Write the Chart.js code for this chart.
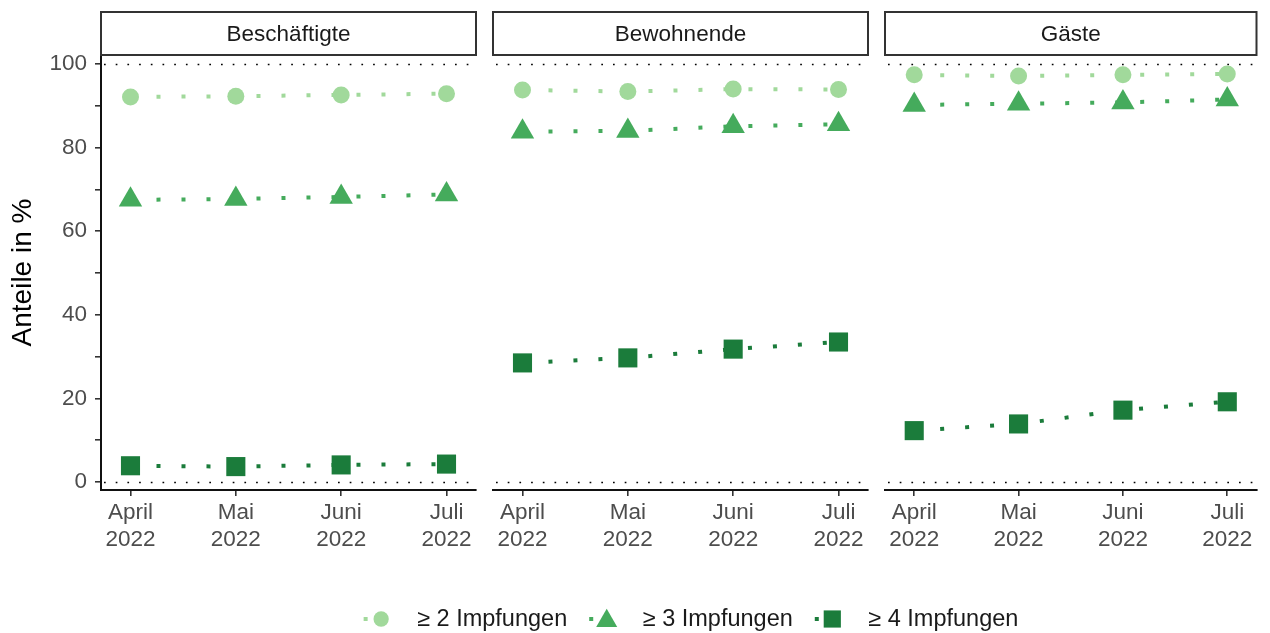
<!DOCTYPE html>
<html>
<head>
<meta charset="utf-8">
<script src="https://cdn.jsdelivr.net/npm/chart.js@4.4.1/dist/chart.umd.min.js"></script>
<style>
html,body{margin:0;padding:0;background:#fff;}
#wrap{position:relative;width:1270px;height:633px;overflow:hidden;background:#fff;}
#wrap canvas{position:absolute;left:0;top:0;}
</style>
</head>
<body>
<div id="wrap">
<canvas id="c0" width="1270" height="633"></canvas>
<canvas id="c1" width="1270" height="633"></canvas>
<canvas id="c2" width="1270" height="633"></canvas>
</div>
<script>
// ---------- data ----------
const months = ['April', 'Mai', 'Juni', 'Juli'];
const year = '2022';
const panels = ['Beschäftigte', 'Bewohnende', 'Gäste'];
const seriesNames = ['≥ 2 Impfungen', '≥ 3 Impfungen', '≥ 4 Impfungen'];
const yTickValues = [0, 10, 20, 30, 40, 50, 60, 70, 80, 90, 100];
const yLabelEvery = 20;
const refLines = [0, 100];
const yTitle = 'Anteile in %';

const beschaeftigte2 = [92.1, 92.3, 92.6, 92.9];
const beschaeftigte3 = [67.5, 67.7, 68.2, 68.8];
const beschaeftigte4 = [3.9, 3.7, 4.1, 4.3];

const bewohnende2 = [93.8, 93.4, 94.0, 93.9];
const bewohnende3 = [83.8, 84.0, 85.1, 85.6];
const bewohnende4 = [28.5, 29.7, 31.8, 33.5];

const gaeste2 = [97.4, 97.1, 97.4, 97.6];
const gaeste3 = [90.2, 90.5, 90.8, 91.5];
const gaeste4 = [12.3, 13.9, 17.2, 19.2];

const panelSeries = [
  [beschaeftigte2, beschaeftigte3, beschaeftigte4],
  [bewohnende2, bewohnende3, bewohnende4],
  [gaeste2, gaeste3, gaeste4]
];

// ---------- styling ----------
const FONT = "'Liberation Sans', Arial, Helvetica, sans-serif";
Chart.defaults.font.family = FONT;
const colors = ['#a1d99b', '#45ab5c', '#1b7c3b'];
const pointStyles = ['circle', 'triangle', 'rect'];
const pointRadii = [8.5, 13.5, 13.5];
const CW = 1270, CH = 633;
const panelLeft = [101, 493, 885];
const panelWidth = 375;
const plotTop = 55, plotBottom = 490;
const xAxisH = 72;
const stripTop = 12;

function toPoints(vals) { return vals.map((v, i) => ({ x: i, y: v })); }

const refLinePlugin = {
  id: 'refLines',
  beforeDatasetsDraw(chart) {
    const { ctx, chartArea, scales } = chart;
    ctx.save();
    ctx.strokeStyle = '#000';
    ctx.lineWidth = 1.7;
    ctx.setLineDash([1.7, 10]);
    refLines.forEach(v => {
      const y = Math.round(scales.y.getPixelForValue(v)) + 0.5;
      ctx.beginPath();
      ctx.moveTo(chartArea.left + 3, y);
      ctx.lineTo(chartArea.right, y);
      ctx.stroke();
    });
    ctx.restore();
  }
};

const stripPlugin = {
  id: 'strip',
  afterDraw(chart, args, opts) {
    const { ctx, chartArea } = chart;
    ctx.save();
    ctx.fillStyle = '#fff';
    ctx.fillRect(chartArea.left, stripTop, chartArea.right - chartArea.left, plotTop - stripTop);
    ctx.strokeStyle = '#333';
    ctx.lineWidth = 2;
    ctx.strokeRect(chartArea.left, stripTop, chartArea.right - chartArea.left, plotTop - stripTop);
    ctx.fillStyle = '#1a1a1a';
    ctx.font = '22.5px ' + FONT;
    ctx.textAlign = 'center';
    ctx.textBaseline = 'middle';
    ctx.fillText(opts.text, (chartArea.left + chartArea.right) / 2, (stripTop + plotTop) / 2 + 1);
    ctx.restore();
  }
};

function drawMarker(ctx, style, x, y, r) {
  ctx.beginPath();
  if (style === 'circle') {
    ctx.arc(x, y, r, 0, Math.PI * 2);
  } else if (style === 'triangle') {
    for (let k = 0; k < 3; k++) {
      const a = k * 2 * Math.PI / 3;
      const px = x + Math.sin(a) * r, py = y - Math.cos(a) * r;
      if (k === 0) ctx.moveTo(px, py); else ctx.lineTo(px, py);
    }
    ctx.closePath();
  } else {
    const s = r * Math.SQRT1_2;
    ctx.rect(x - s, y - s, 2 * s, 2 * s);
  }
  ctx.fill();
}

const legendPlugin = {
  id: 'bottomLegend',
  afterDraw(chart, args, opts) {
    if (!opts.show) return;
    const ctx = chart.ctx;
    ctx.save();
    ctx.font = '23.5px ' + FONT;
    const keyToText = 36, dotOffset = 15, itemGap = 22, dotHalf = 2.5;
    const widths = seriesNames.map(t => ctx.measureText(t).width);
    let total = 0;
    widths.forEach((w, i) => { total += dotHalf + dotOffset + keyToText + w; if (i < widths.length - 1) total += itemGap; });
    const centerX = 691;
    let x = centerX - total / 2; // left edge of first dot
    const yC = 619;
    seriesNames.forEach((name, i) => {
      const mx = x + dotHalf + dotOffset;
      ctx.fillStyle = colors[i];
      ctx.fillRect(mx - dotOffset - dotHalf, yC - 2, 4, 4);
      drawMarker(ctx, pointStyles[i], mx, yC + (i === 1 ? 2 : 0), pointRadii[i] * 0.9);
      ctx.fillStyle = '#1a1a1a';
      ctx.textAlign = 'left';
      ctx.textBaseline = 'middle';
      ctx.fillText(name, mx + keyToText, yC + 1);
      x = mx + keyToText + widths[i] + itemGap;
    });
    ctx.restore();
  }
};

panels.forEach((pname, p) => {
  const datasets = panelSeries[p].map((vals, s) => ({
    label: seriesNames[s],
    data: toPoints(vals),
    borderColor: colors[s],
    backgroundColor: colors[s],
    borderWidth: 4,
    borderDash: [4, 21],
    borderDashOffset: -1,
    borderCapStyle: 'butt',
    pointStyle: pointStyles[s],
    pointRadius: pointRadii[s],
    pointBorderWidth: 0,
    pointBackgroundColor: colors[s],
    tension: 0,
    fill: false,
    clip: false
  }));
  const isFirst = p === 0;
  new Chart(document.getElementById('c' + p), {
    type: 'line',
    data: { datasets },
    plugins: [refLinePlugin, stripPlugin, legendPlugin],
    options: {
      responsive: false,
      animation: false,
      devicePixelRatio: 1,
      events: [],
      layout: {
        padding: {
          left: isFirst ? 0 : panelLeft[p],
          right: CW - (panelLeft[p] + panelWidth),
          top: plotTop,
          bottom: CH - plotBottom - xAxisH
        }
      },
      plugins: {
        legend: { display: false },
        tooltip: { enabled: false },
        strip: { text: pname },
        bottomLegend: { show: p === 2 }
      },
      scales: {
        x: {
          type: 'linear',
          min: -0.28,
          max: 3.28,
          afterBuildTicks: ax => { ax.ticks = months.map((m, i) => ({ value: i })); },
          afterFit: ax => { ax.height = xAxisH; },
          ticks: {
            callback: (v) => [months[v], year],
            color: '#4d4d4d',
            font: { size: 22.5, lineHeight: 1.22 },
            padding: 3,
            maxRotation: 0,
            autoSkip: false
          },
          grid: { drawOnChartArea: false, drawTicks: true, tickLength: 6, tickColor: '#333', lineWidth: 1.6 },
          border: { display: true, color: '#111', width: 2 }
        },
        y: {
          display: isFirst,
          min: -1.9,
          max: 102.15,
          afterBuildTicks: ax => { ax.ticks = yTickValues.map(v => ({ value: v })); },
          afterFit: isFirst ? (ax => { ax.width = panelLeft[0]; }) : undefined,
          ticks: {
            callback: v => (v % yLabelEvery === 0 ? String(v) : ''),
            color: '#4d4d4d',
            font: { size: 22.5 },
            padding: 8,
            autoSkip: false
          },
          grid: { drawOnChartArea: false, drawTicks: true, tickLength: 6, tickColor: '#333', lineWidth: 1.6 },
          border: { display: true, color: '#111', width: 2 },
          title: {
            display: true,
            text: yTitle,
            color: '#000',
            font: { size: 28 },
            padding: { top: 6, bottom: 0 }
          }
        }
      }
    }
  });
});
</script>
</body>
</html>
